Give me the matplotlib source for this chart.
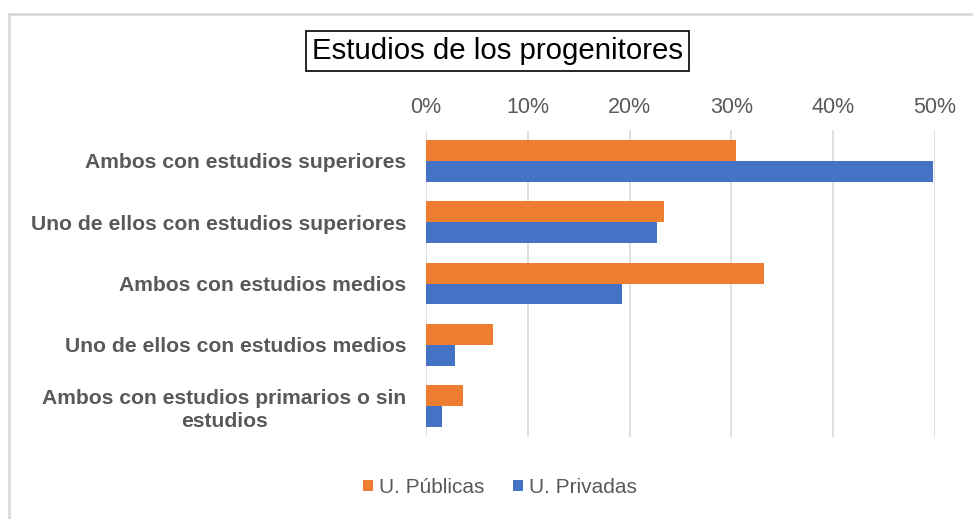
import numpy as np
import matplotlib
matplotlib.use("Agg")
import matplotlib.pyplot as plt
from matplotlib.ticker import PercentFormatter
from matplotlib.lines import Line2D

plt.rcParams['font.family'] = ['Liberation Sans', 'DejaVu Sans']

categorias = ["Ambos con estudios superiores",
              "Uno de ellos con estudios superiores",
              "Ambos con estudios medios",
              "Uno de ellos con estudios medios",
              "Ambos con estudios primarios o sin\nestudios"]
publicas = [0.305, 0.234, 0.332, 0.066, 0.036]
privadas = [0.498, 0.227, 0.193, 0.028, 0.016]

c_pub = "#ED7D31"
c_priv = "#4472C4"
gris = "#595959"

fig = plt.figure(figsize=(9.73, 5.19), dpi=100)
ax = fig.add_axes([426/973, 1-437/519, (935-426)/973, (437-130)/519])

y = np.arange(len(categorias))
h = 0.34
ax.barh(y - h/2, publicas, height=h, color=c_pub, label="U. Públicas", zorder=3)
ax.barh(y + h/2, privadas, height=h, color=c_priv, label="U. Privadas", zorder=3)

ax.set_xlim(0, 0.5)
ax.set_ylim(len(categorias) - 0.5, -0.5)
ax.xaxis.set_major_formatter(PercentFormatter(1.0, decimals=0))
ax.set_xticks(np.arange(0, 0.51, 0.1))
ax.xaxis.tick_top()
ax.grid(axis="x", color="#d9d9d9", linewidth=1.2, zorder=0)
for s in ax.spines.values():
    s.set_visible(False)
ax.tick_params(axis="x", length=0, pad=9, labelsize=15.5, labelcolor=gris)
ax.tick_params(axis="y", length=0, pad=14)
ax.set_yticks(y)
ax.set_yticklabels(categorias, fontsize=15.2, fontweight="bold", color=gris,
                   multialignment="center", linespacing=1.25)

fig.text(0.511, 0.902, "Estudios de los progenitores", ha="center", va="center",
         fontsize=21.2, color="black",
         bbox=dict(boxstyle="square,pad=0.2", facecolor="white", edgecolor="black", linewidth=1.2))

fig.legend(loc="center", bbox_to_anchor=(0.514, 0.061), ncol=2, frameon=False,
           fontsize=15, handlelength=0.45, handleheight=0.45, handletextpad=0.3,
           columnspacing=1.4, labelcolor=gris)

# borde del área del gráfico
fig.add_artist(Line2D([9/973, 9/973], [0, 1-14/519], transform=fig.transFigure,
                      color="#d9d9d9", linewidth=2))
fig.add_artist(Line2D([9/973, 1], [1-14/519, 1-14/519], transform=fig.transFigure,
                      color="#d9d9d9", linewidth=2))

fig.savefig("out.png", dpi=100, facecolor="white")
